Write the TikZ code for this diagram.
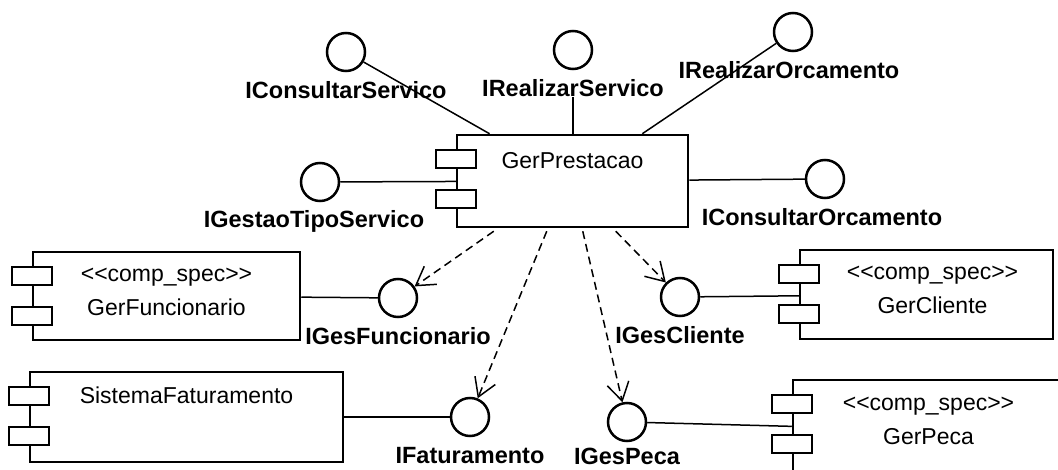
\documentclass[tikz,border=0pt]{standalone}
\usepackage{fontspec}
\setmainfont{Liberation Sans}
\usetikzlibrary{arrows.meta,calc,positioning}
\tikzset{
    comp/.style={draw, rectangle, line width=2.5pt, inner sep=0pt, fill=white},
    comptab/.style={draw, rectangle, line width=2.5pt, fill=white, inner sep=0pt,
        minimum width=40pt, minimum height=18pt},
    iface/.style={draw, circle, line width=2.5pt, fill=white, inner sep=0pt, minimum size=38pt},
    iname/.style={font=\bfseries\fontsize{23.5}{26}\selectfont, inner sep=0pt},
    cname/.style={font=\fontsize{23}{34}\selectfont, align=center, inner sep=0pt},
    wire/.style={line width=1.5pt},
    dep/.style={line width=1.5pt, dash pattern=on 8pt off 5pt,
        -{Straight Barb[length=18pt,width=22pt,line width=1.5pt]}},
}
% the two little tabs on the left side of a component
\newcommand{\comptabs}[1]{%
    \node[comptab, anchor=north] (#1-t1) at ($(#1.north west)+(0,15)$) {};
    \node[comptab, anchor=north] (#1-t2) at ($(#1.north west)+(0,55)$) {};
}

\begin{document}
\begin{tikzpicture}[x=1pt, y=-1pt]
    \fill[white] (0,0) rectangle (1058,470);
    \useasboundingbox (0,0) rectangle (1058,470);
    \clip (0,0) rectangle (1058,470);

    % components
    \node[comp, minimum width=231pt, minimum height=92pt] (prest) at (572.5,181) {};
    \node[comp, minimum width=267pt, minimum height=88pt] (gfunc) at (166.5,296) {};
    \node[comp, minimum width=313pt, minimum height=90pt] (sfat) at (186.5,417) {};
    \node[comp, minimum width=253pt, minimum height=89pt] (gcli) at (926.5,294.5) {};
    \node[comp, minimum width=275pt, minimum height=100pt] (gpeca) at (930.5,430) {};
    \comptabs{prest}
    \comptabs{gfunc}
    \comptabs{sfat}
    \comptabs{gcli}
    \comptabs{gpeca}
    \node[cname] (prest-n) at ($(prest.north)+(0,27)$) {GerPrestacao};
    \node[cname] (gfunc-n) at ($(gfunc.north)+(0,41)$) {<{}<comp\_spec>{}>\\GerFuncionario};
    \node[cname] (sfat-n) at ($(sfat.north)+(0,25)$) {SistemaFaturamento};
    \node[cname] (gcli-n) at ($(gcli.north)+(6,41)$) {<{}<comp\_spec>{}>\\GerCliente};
    \node[cname] (gpeca-n) at ($(gpeca.north)+(-2,42)$) {<{}<comp\_spec>{}>\\GerPeca};

    % interfaces
    \node[iface] (ics) at (346,52) {};
    \node[iface] (irs) at (573,50) {};
    \node[iface] (iro) at (793,32) {};
    \node[iface] (igts) at (320,182) {};
    \node[iface] (ico) at (825,179) {};
    \node[iface] (igf) at (398,298) {};
    \node[iface] (igc) at (680,297) {};
    \node[iface] (ifat) at (470,417) {};
    \node[iface] (igp) at (627,422) {};
    \node[iname, below=9pt of ics] (ics-l) {IConsultarServico};
    \node[iname, below=9pt of irs] (irs-l) {IRealizarServico};
    \node[iname, below=9pt of iro, xshift=-4pt] (iro-l) {IRealizarOrcamento};
    \node[iname, below=8pt of igts, xshift=-6pt] (igts-l) {IGestaoTipoServico};
    \node[iname, below=9pt of ico, xshift=-3pt] (ico-l) {IConsultarOrcamento};
    \node[iname, below=9pt of igf] (igf-l) {IGesFuncionario};
    \node[iname, below=9pt of igc] (igc-l) {IGesCliente};
    \node[iname, below=10pt of ifat] (ifat-l) {IFaturamento};
    \node[iname, below=6pt of igp] (igp-l) {IGesPeca};

    % provided interfaces
    \draw[wire] (ics) -- (prest);
    \draw[wire] (irs-l) -- (irs-l |- prest.north);
    \draw[wire] (iro) -- (prest);
    \draw[wire] (igts) -- (prest);
    \draw[wire] (ico) -- (prest);
    \draw[wire] (gfunc) -- (igf);
    \draw[wire] (igc) -- (gcli);
    \draw[wire] (sfat) -- (ifat);
    \draw[wire] (igp) -- (gpeca);

    % dependencies of GerPrestacao
    \draw[dep] ($(prest.south west)+(38,3)$) -- (igf);
    \draw[dep] ($(prest.south west)+(91,3)$) -- (ifat);
    \draw[dep] ($(prest.south west)+(127,3)$) -- (igp);
    \draw[dep] ($(prest.south west)+(160,3)$) -- (igc);
\end{tikzpicture}
\end{document}
